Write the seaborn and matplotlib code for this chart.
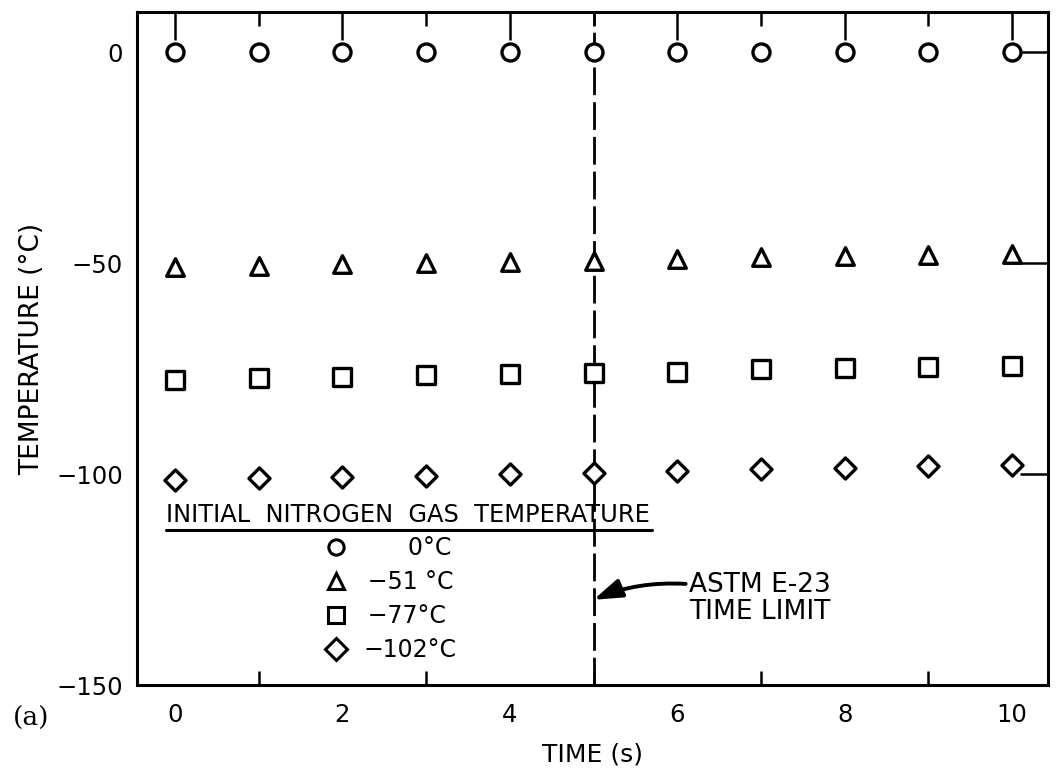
import matplotlib
matplotlib.use("Agg")
import matplotlib.pyplot as plt
from matplotlib.lines import Line2D
from matplotlib.ticker import MultipleLocator
import seaborn as sns
import pandas as pd

# ---- data ----
time_s = [0, 1, 2, 3, 4, 5, 6, 7, 8, 9, 10]
temp_0 = [0, 0, 0, 0, 0, 0, 0, 0, 0, 0, 0]
temp_m51 = [-51.0, -50.6, -50.3, -50.0, -49.8, -49.5, -49.1, -48.6, -48.4, -48.2, -47.8]
temp_m77 = [-77.6, -77.2, -76.9, -76.5, -76.3, -76.0, -75.7, -75.2, -74.9, -74.6, -74.3]
temp_m102 = [-101.4, -101.0, -100.7, -100.4, -100.1, -99.7, -99.3, -98.9, -98.5, -98.1, -97.9]
series_labels = ["0°C", "-51 °C", "-77°C", "-102°C"]
legend_labels = ["\u2007\u2007\u20070°C", "\u2009\u221251 °C", "\u2009\u221277°C", "\u2212102°C"]
x_ticks = [0, 2, 4, 6, 8, 10]
y_ticks = [-150, -100, -50, 0]
y_ticklabels = ["\u2212150", "\u2212100", "\u221250", "0"]
limit_time = 5

sns.set_theme(style="white")
plt.rcParams["font.family"] = ["DejaVu Sans"]
plt.rcParams.update({"text.color": "black", "axes.labelcolor": "black",
                     "xtick.color": "black", "ytick.color": "black"})

df = pd.DataFrame({
    "time": time_s * 4,
    "temp": temp_0 + temp_m51 + temp_m77 + temp_m102,
    "series": sum([[s] * len(time_s) for s in series_labels], []),
})

markers = {"0°C": "o", "-51 °C": "^", "-77°C": "s", "-102°C": "D"}
sizes = {"0°C": 150, "-51 °C": 160, "-77°C": 150, "-102°C": 115}

fig = plt.figure(figsize=(10.57, 7.73), dpi=100)
ax = fig.add_axes([0.1296, 0.1138, 0.8619, 0.8707])

for s in series_labels:
    sub = df[df["series"] == s]
    sns.scatterplot(data=sub, x="time", y="temp", marker=markers[s], s=sizes[s],
                    facecolor="white", edgecolor="black", linewidth=2.4,
                    ax=ax, legend=False, zorder=3)

ax.axvline(limit_time, color="black", lw=2, dashes=(10, 2.5), zorder=2)

ax.set_xlim(-0.454, 10.43)
ax.set_ylim(-150, 9.5)
ax.set_xticks(x_ticks)
ax.xaxis.set_minor_locator(MultipleLocator(1))
ax.set_yticks(y_ticks)
ax.set_yticklabels(y_ticklabels)

for sp in ax.spines.values():
    sp.set_linewidth(2.2)
    sp.set_color("black")

ax.tick_params(axis="both", which="major", direction="in", length=20, width=1.8,
               labelsize=17.5, colors="black", top=True, right=True, pad=10)
ax.tick_params(axis="x", which="minor", direction="in", length=10, width=1.8,
               top=True, bottom=True)
ax.tick_params(axis="x", which="major", pad=13)

ax.set_xlabel("TIME (s)", fontsize=18, labelpad=11)
ax.set_ylabel("TEMPERATURE (°C)", fontsize=19, labelpad=8)

# legend title with underline
ax.text(0.032, 0.253, "INITIAL  NITROGEN  GAS  TEMPERATURE", transform=ax.transAxes,
        fontsize=17.4, ha="left", va="center")
ax.plot([0.032, 0.565], [0.231, 0.231], transform=ax.transAxes, color="black", lw=2.2)

handles = [Line2D([], [], ls="none", marker=markers[s], markersize=11,
                  markerfacecolor="white", markeredgecolor="black", markeredgewidth=2.2)
           for s in series_labels]
leg = ax.legend(handles, legend_labels, loc="upper left", bbox_to_anchor=(0.1925, 0.2207),
                frameon=False, fontsize=17, handletextpad=0.15, labelspacing=0.42,
                borderaxespad=0, borderpad=0)

ax.annotate("ASTM E-23\nTIME LIMIT", xy=(limit_time, -129.8), xytext=(6.14, -129.6),
            fontsize=19, ha="left", va="center", linespacing=1.05,
            arrowprops=dict(arrowstyle="-|>,head_length=0.9,head_width=0.3",
                            color="black", lw=2.8, shrinkA=0, shrinkB=0,
                            relpos=(0, 0.78),
                            connectionstyle="arc3,rad=0.12"))

fig.text(0.012, 0.071, "(a)", fontsize=19, family="DejaVu Serif", ha="left", va="center")

fig.savefig("out.png", dpi=100)
